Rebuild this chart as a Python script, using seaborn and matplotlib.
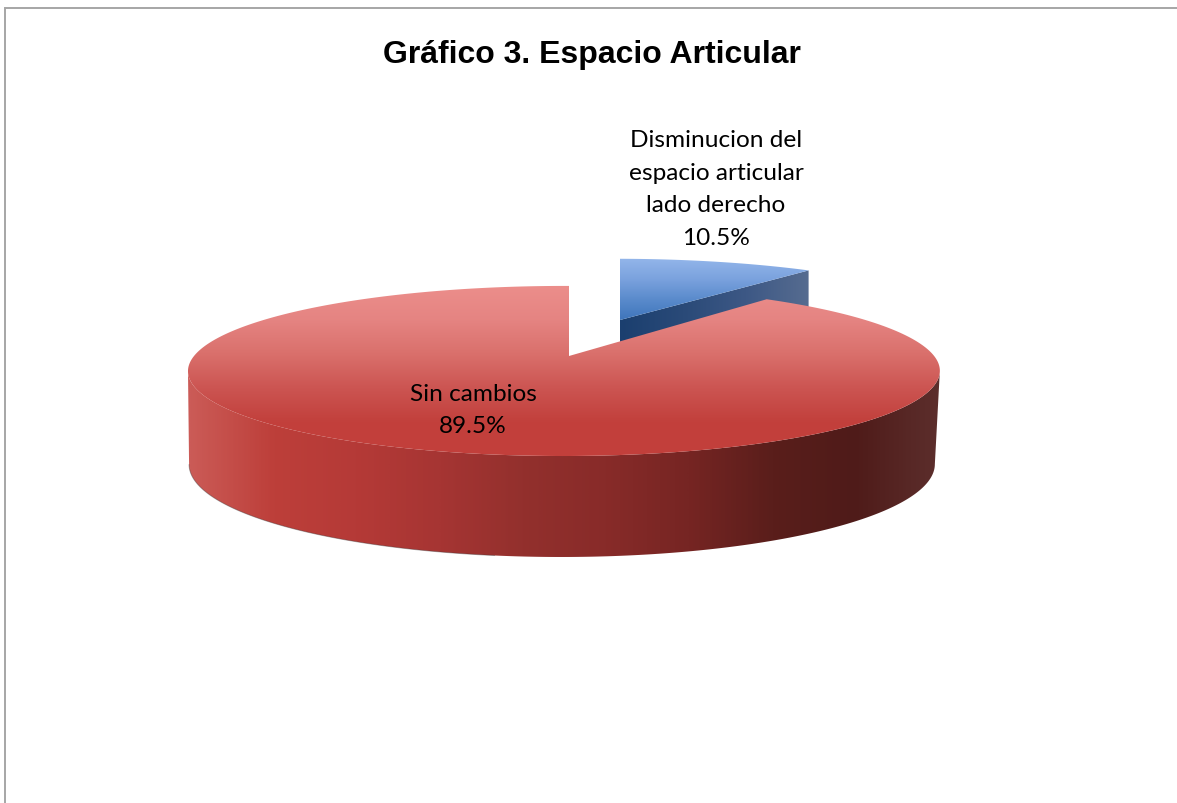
import numpy as np
import matplotlib
matplotlib.use("Agg")
import matplotlib.pyplot as plt
from matplotlib.patches import Polygon
import seaborn as sns

# Chart content
title = "Gráfico 3. Espacio Articular"
categories = ["Disminucion del\nespacio articular\nlado derecho", "Sin cambios"]
percentages = [10.5, 89.5]

# Shading ramps for each slice
red_top_colors = ["#ec8e8b", "#e58482", "#da706c", "#cc5552", "#c2403c", "#c33f3b"]
red_side_colors = ["#cb5b57", "#bd3f3a", "#b53a37", "#a63533", "#93302d",
                   "#882b29", "#762523", "#5a1e1b", "#4f1b19", "#5c2e2c"]
blue_top_colors = ["#93b6ea", "#7ba2de", "#5a8bcc", "#3f75bb"]
blue_side_colors = ["#1b3f6f", "#2a4a78", "#3d5885", "#566c90"]

sns.set_theme(style="white")
W, H = 1177, 804
TILT = 0.176
fig = plt.figure(figsize=(W / 100, H / 100), dpi=100)
ax = fig.add_axes([0, 0, 1, 1])
ax.set_xlim(0, W)
ax.set_ylim(H, 0)
ax.axis("off")


def project(theta, apex, ax_x=370.0, ax_y=82.4, tilt=TILT, skew=0.0133):
    """Map clockwise pie angles to the tilted disc in screen coordinates."""
    u, v = np.sin(theta), np.cos(theta)
    w = 1 + tilt * v + skew * u
    return apex[0] + ax_x * u / w, apex[1] - ax_y * v / w


def shade(patch, cmap, extent, horizontal):
    """Fill a patch with a linear colour ramp, clipped to its outline."""
    ramp = np.linspace(0, 1, 400)
    ramp = ramp[None, :] if horizontal else ramp[:, None]
    ax.add_patch(patch)
    im = ax.imshow(ramp, cmap=cmap, extent=extent, aspect="auto", zorder=patch.get_zorder(),
                   interpolation="bilinear", origin="upper")
    im.set_clip_path(patch)


fractions = np.array(percentages) / sum(percentages)
blue_sweep = 2 * np.pi * fractions[0]
red_sweep = 2 * np.pi * fractions[1]

# Blue slice: sits further back, so it is drawn first and a little smaller
blue_apex = (620, 321)
blue_kw = dict(ax_x=353.0, ax_y=72.0)
t = np.linspace(0, blue_sweep, 60)
bx, by = project(t, blue_apex, **blue_kw)
blue_depth = 60
wall_x = np.r_[blue_apex[0], bx[-1], bx[-1], blue_apex[0]]
wall_y = np.r_[blue_apex[1], by[-1], by[-1] + blue_depth, blue_apex[1] + blue_depth]
shade(Polygon(np.c_[wall_x, wall_y], closed=True, fc="none", ec="none", zorder=1),
      sns.blend_palette(blue_side_colors, as_cmap=True),
      [blue_apex[0], bx[-1], wall_y.max(), wall_y.min()], True)
shade(Polygon(np.c_[np.r_[blue_apex[0], bx], np.r_[blue_apex[1], by]], closed=True, fc="none", ec="none", zorder=2),
      sns.blend_palette(blue_top_colors, as_cmap=True),
      [bx.min(), bx.max(), blue_apex[1], by.min()], False)

# Red slice: outer wall first, then the top face over it.
# The wall runs between the silhouette points of the tilted disc.
red_apex = (569, 357)
t = np.linspace(blue_sweep, blue_sweep + red_sweep, 400)
rx, ry = project(t, red_apex)
side_angle = np.arccos(-TILT)
front = np.linspace(side_angle, 2 * np.pi - side_angle, 300)
ftx, fty = project(front, red_apex)
fbx, fby = project(front, (567, 357 + 92), ax_x=367.0, ax_y=89.8)
wall = np.c_[np.r_[ftx, fbx[::-1]], np.r_[fty, fby[::-1]]]
shade(Polygon(wall, closed=True, fc="none", ec="none", zorder=3),
      sns.blend_palette(red_side_colors[::-1], as_cmap=True),
      [wall[:, 0].max(), wall[:, 0].min(), wall[:, 1].max(), wall[:, 1].min()], True)
edge = front > np.pi * 1.05
ax.plot(fbx[edge], fby[edge], color="#3a3a3a", lw=0.7, alpha=0.4, zorder=3)
top_face = np.c_[np.r_[red_apex[0], rx], np.r_[red_apex[1], ry]]
shade(Polygon(top_face, closed=True, fc="none", ec="none", zorder=4),
      sns.blend_palette(red_top_colors, as_cmap=True),
      [rx.min(), rx.max(), ry.max(), ry.min()], False)

# Chart frame
ax.plot([4.5, 4.5, W], [H, 8.5, 8.5], color="#a6a6a6", lw=1.4, zorder=0, solid_joinstyle="miter")

# Text
ax.text(591.5, 54.5, title, ha="center", va="center", fontsize=23, fontweight="bold",
        family="Liberation Sans", color="black", zorder=6)
label_font = dict(family="Lato", fontsize=17.6, color="black", ha="center", va="center",
                  linespacing=1.68, zorder=6)
ax.text(716, 189.5, f"{categories[0]}\n{percentages[0]}%", **label_font)
ax.text(473, 410.5, f"{categories[1]}\n{percentages[1]}%", **label_font)

fig.savefig("out.png", dpi=100, facecolor="white")
